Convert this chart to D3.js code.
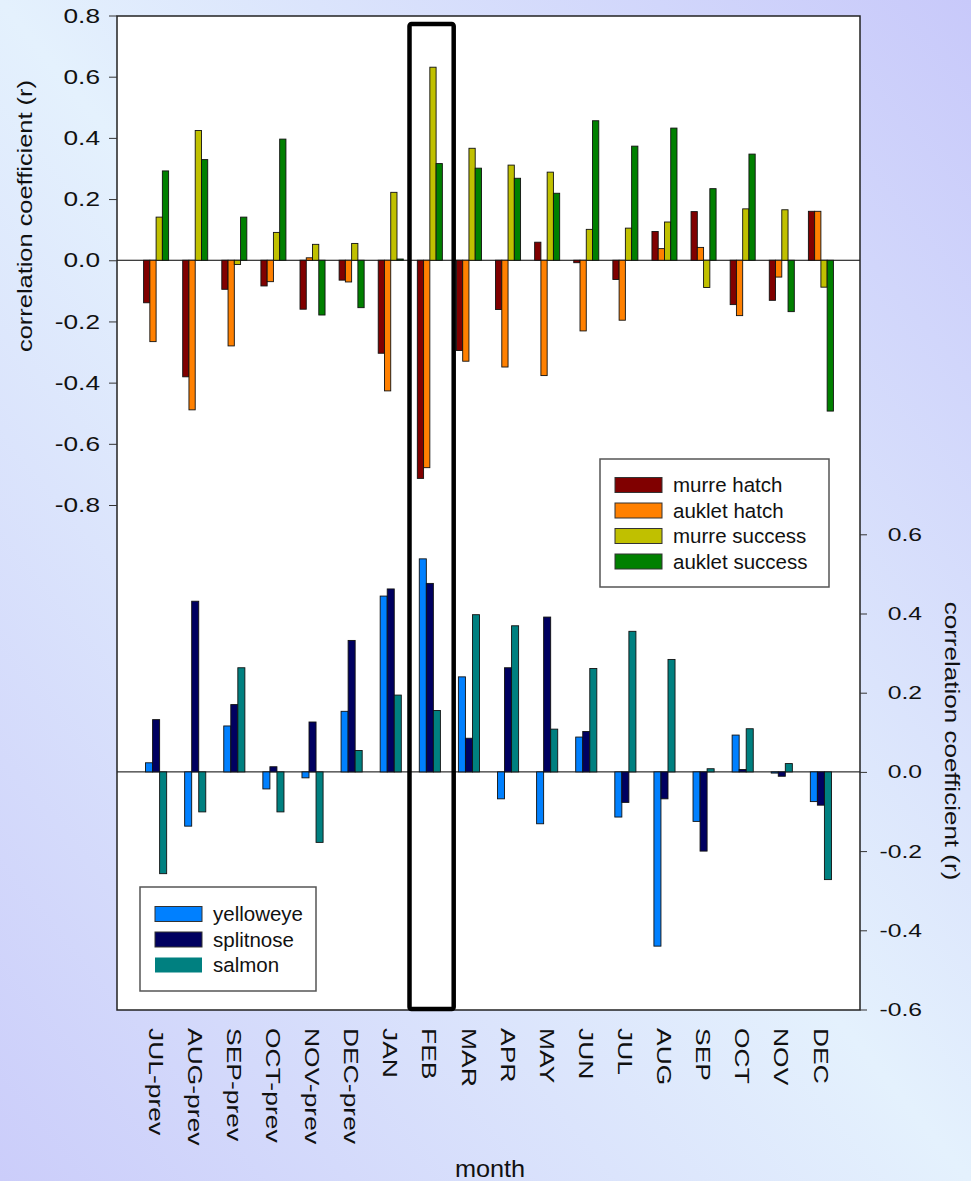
<!DOCTYPE html>
<html>
<head>
<meta charset="utf-8">
<script src="https://cdn.jsdelivr.net/npm/d3@7"></script>
<style>
  html, body { margin: 0; padding: 0; }
  svg { display: block; font-family: "Liberation Sans", Arial, sans-serif; }
</style>
</head>
<body>
<svg id="chart" width="971" height="1181"></svg>
<script>
// Months of the lagged correlation window
const months = ["JUL-prev", "AUG-prev", "SEP-prev", "OCT-prev", "NOV-prev", "DEC-prev",
  "JAN", "FEB", "MAR", "APR", "MAY", "JUN", "JUL", "AUG", "SEP", "OCT", "NOV", "DEC"];

// Seabird series (left axis)
const murreHatch    = [-0.139, -0.381, -0.095, -0.084, -0.160, -0.065, -0.304, -0.713, -0.295, -0.161, 0.059, -0.008, -0.063, 0.094, 0.159, -0.145, -0.131, 0.160];
const aukletHatch   = [-0.266, -0.489, -0.280, -0.070, 0.008, -0.071, -0.427, -0.678, -0.330, -0.349, -0.377, -0.231, -0.196, 0.038, 0.042, -0.181, -0.055, 0.160];
const murreSuccess  = [0.141, 0.424, -0.014, 0.091, 0.052, 0.055, 0.222, 0.631, 0.366, 0.311, 0.288, 0.101, 0.105, 0.125, -0.089, 0.168, 0.165, -0.088];
const aukletSuccess = [0.292, 0.329, 0.141, 0.396, -0.179, -0.155, 0.004, 0.316, 0.301, 0.268, 0.219, 0.456, 0.373, 0.432, 0.234, 0.347, -0.168, -0.493];

// Fish series (right axis)
const yelloweye = [0.023, -0.137, 0.116, -0.043, -0.015, 0.153, 0.444, 0.538, 0.240, -0.068, -0.131, 0.088, -0.114, -0.440, -0.125, 0.093, -0.003, -0.075];
const splitnose = [0.132, 0.431, 0.170, 0.013, 0.126, 0.332, 0.462, 0.476, 0.085, 0.263, 0.391, 0.102, -0.077, -0.068, -0.200, 0.006, -0.011, -0.084];
const salmon    = [-0.257, -0.101, 0.263, -0.101, -0.178, 0.054, 0.194, 0.155, 0.397, 0.369, 0.108, 0.261, 0.355, 0.284, 0.008, 0.109, 0.021, -0.272];

const birdNames  = ["murre hatch", "auklet hatch", "murre success", "auklet success"];
const birdColors = ["#800000", "#ff8000", "#c0c000", "#008000"];
const fishNames  = ["yelloweye", "splitnose", "salmon"];
const fishColors = ["#0080ff", "#000060", "#008080"];

const leftTicks = [0.8, 0.6, 0.4, 0.2, 0.0, -0.2, -0.4, -0.6, -0.8];
const leftTickLabels = ["0.8", "0.6", "0.4", "0.2", "0.0", "-0.2", "-0.4", "-0.6", "-0.8"];
const rightTicks = [0.6, 0.4, 0.2, 0.0, -0.2, -0.4, -0.6];
const rightTickLabels = ["0.6", "0.4", "0.2", "0.0", "-0.2", "-0.4", "-0.6"];

const highlightMonth = "FEB";

const birdSeries = [murreHatch, aukletHatch, murreSuccess, aukletSuccess];
const fishSeries = [yelloweye, splitnose, salmon];

// ---- layout ----
const W = 971, H = 1181;
const plot = { left: 117, right: 860, top: 16, bottom: 1010 };

const svg = d3.select("#chart");

// page background
const defs = svg.append("defs");
const grad = defs.append("linearGradient")
  .attr("id", "bg").attr("x1", 1).attr("y1", 0).attr("x2", 0).attr("y2", 1);
grad.append("stop").attr("offset", 0).attr("stop-color", "#c8c9fa");
grad.append("stop").attr("offset", 0.5).attr("stop-color", "#e4f1fd");
grad.append("stop").attr("offset", 1).attr("stop-color", "#cbcdfa");
svg.append("rect").attr("width", W).attr("height", H).attr("fill", "url(#bg)");

// plot panel
svg.append("rect")
  .attr("x", plot.left).attr("y", plot.top)
  .attr("width", plot.right - plot.left).attr("height", plot.bottom - plot.top)
  .attr("fill", "#fff");

// scales
const x = d3.scalePoint().domain(months).range([plot.left, plot.right]).padding(1);
const step = x.step();
const yL = d3.scaleLinear().domain([0.8, -0.8]).range([15.5, 505]);
const yR = d3.scaleLinear().domain([0.6, -0.6]).range([534.3, 1009.5]);

const xBird = d3.scaleBand().domain(birdNames).range([-0.32 * step, 0.32 * step]);
const xFish = d3.scaleBand().domain(fishNames).range([-0.27 * step, 0.27 * step]);

// zero reference lines
svg.append("line")
  .attr("x1", plot.left).attr("x2", plot.right)
  .attr("y1", yL(0)).attr("y2", yL(0))
  .attr("stroke", "#000").attr("stroke-width", 1);
svg.append("line")
  .attr("x1", plot.left).attr("x2", plot.right)
  .attr("y1", yR(0)).attr("y2", yR(0))
  .attr("stroke", "#000").attr("stroke-width", 1);

// seabird bars
birdSeries.forEach((vals, s) => {
  svg.append("g").selectAll("rect")
    .data(vals.map((v, i) => ({ m: months[i], v })))
    .join("rect")
    .attr("x", d => x(d.m) + xBird(birdNames[s]))
    .attr("width", xBird.bandwidth())
    .attr("y", d => Math.min(yL(d.v), yL(0)))
    .attr("height", d => Math.abs(yL(d.v) - yL(0)))
    .attr("fill", birdColors[s])
    .attr("stroke", "#111").attr("stroke-width", 0.9);
});

// fish bars
fishSeries.forEach((vals, s) => {
  svg.append("g").selectAll("rect")
    .data(vals.map((v, i) => ({ m: months[i], v })))
    .join("rect")
    .attr("x", d => x(d.m) + xFish(fishNames[s]))
    .attr("width", xFish.bandwidth())
    .attr("y", d => Math.min(yR(d.v), yR(0)))
    .attr("height", d => Math.abs(yR(d.v) - yR(0)))
    .attr("fill", fishColors[s])
    .attr("stroke", "#111").attr("stroke-width", 0.9);
});

// panel frame
svg.append("rect")
  .attr("x", plot.left).attr("y", plot.top)
  .attr("width", plot.right - plot.left).attr("height", plot.bottom - plot.top)
  .attr("fill", "none").attr("stroke", "#222").attr("stroke-width", 1.5);

// left axis
const gL = svg.append("g")
  .attr("transform", `translate(${plot.left},0)`)
  .call(d3.axisLeft(yL).tickValues(leftTicks).tickSize(8)
    .tickFormat((d, i) => leftTickLabels[i]));
gL.select(".domain").remove();
gL.selectAll("line").attr("stroke", "#333");
gL.selectAll("text")
  .attr("x", 0)
  .attr("transform", "translate(-17,0) scale(1.25,1)")
  .attr("text-anchor", "end")
  .attr("font-size", 21)
  .attr("font-family", "Liberation Sans, Arial, sans-serif")
  .attr("fill", "#111");

// right axis
const gR = svg.append("g")
  .attr("transform", `translate(${plot.right},0)`)
  .call(d3.axisRight(yR).tickValues(rightTicks).tickSize(7)
    .tickFormat((d, i) => rightTickLabels[i]));
gR.select(".domain").remove();
gR.selectAll("line").attr("stroke", "#333");
gR.selectAll("text")
  .attr("x", 0)
  .attr("transform", "translate(62,0) scale(1.3,1)")
  .attr("text-anchor", "end")
  .attr("font-size", 19)
  .attr("font-family", "Liberation Sans, Arial, sans-serif")
  .attr("fill", "#111");

// month labels, rotated
svg.append("g").selectAll("text")
  .data(months)
  .join("text")
  .attr("transform", d => `translate(${x(d)},1028) rotate(90) scale(1.26,1)`)
  .attr("dy", "0.35em")
  .attr("text-anchor", "start")
  .attr("font-size", 21)
  .attr("fill", "#111")
  .text(d => d);

// axis titles
svg.append("text")
  .attr("transform", "translate(25,216) rotate(-90) scale(1.21,1)")
  .attr("dy", "0.35em")
  .attr("text-anchor", "middle")
  .attr("font-size", 21)
  .attr("fill", "#111")
  .text("correlation coefficient (r)");

svg.append("text")
  .attr("transform", "translate(952,741) rotate(90) scale(1.24,1)")
  .attr("dy", "0.35em")
  .attr("text-anchor", "middle")
  .attr("font-size", 21)
  .attr("fill", "#111")
  .text("correlation coefficient (r)");

svg.append("text")
  .attr("transform", "translate(490,1177) scale(1.1,1)")
  .attr("text-anchor", "middle")
  .attr("font-size", 23)
  .attr("fill", "#111")
  .text("month");

// highlight box around the selected month
svg.append("rect")
  .attr("x", x(highlightMonth) - 0.52 * step)
  .attr("y", plot.top + 8)
  .attr("width", 1.13 * step)
  .attr("height", plot.bottom - plot.top - 9)
  .attr("rx", 2)
  .attr("fill", "none")
  .attr("stroke", "#000")
  .attr("stroke-width", 4.5);

// legends
function legend(x0, y0, w, h, names, colors, firstRow, swatchStroke) {
  const g = svg.append("g");
  g.append("rect")
    .attr("x", x0).attr("y", y0).attr("width", w).attr("height", h)
    .attr("fill", "#fff").attr("stroke", "#555").attr("stroke-width", 1.5);
  names.forEach((n, i) => {
    const cy = firstRow + i * 25.5;
    g.append("rect")
      .attr("x", x0 + 15).attr("y", cy - 7.5).attr("width", 47).attr("height", 15)
      .attr("fill", colors[i])
      .attr("stroke", swatchStroke[i] ? "#333" : "none").attr("stroke-width", 1);
    g.append("text")
      .attr("x", x0 + 73).attr("y", cy + 7)
      .attr("font-size", 20.5).attr("fill", "#111")
      .text(n);
  });
}
legend(600, 459, 229, 128, birdNames, birdColors, 485, [true, true, true, true]);
legend(140, 887, 176, 104, fishNames, fishColors, 914, [true, true, false]);
</script>
</body>
</html>
